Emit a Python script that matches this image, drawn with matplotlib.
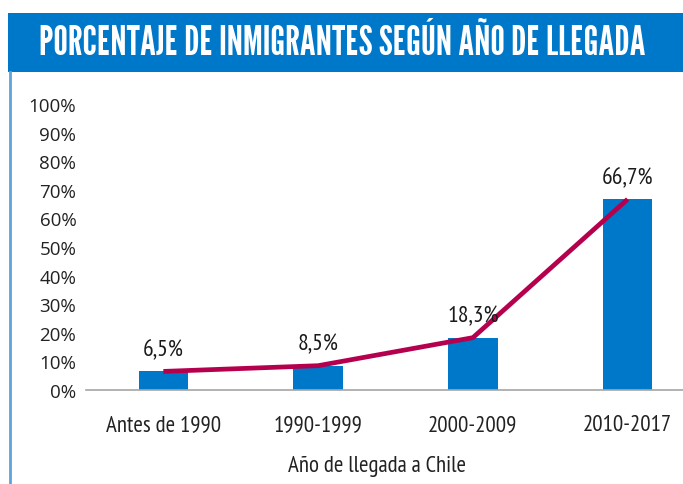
import matplotlib.pyplot as plt
from matplotlib.patches import Rectangle
from matplotlib.lines import Line2D

categorias = ['Antes de 1990', '1990-1999', '2000-2009', '2010-2017']
porcentajes = [6.5, 8.5, 18.3, 66.7]
etiquetas = ['6,5%', '8,5%', '18,3%', '66,7%']
yticks = [0, 10, 20, 30, 40, 50, 60, 70, 80, 90, 100]

azul = '#0078C9'
rojo = '#B5004E'
narrow = 'PT Sans Narrow'

fig = plt.figure(figsize=(6.83, 4.85), dpi=100)
W, H = 683, 485

# header box and left rule
fig.patches.append(Rectangle((8 / W, 1 - 73 / H), 1, 59 / H, transform=fig.transFigure,
                             facecolor=azul, edgecolor='none'))
fig.lines.append(Line2D([10 / W, 10 / W], [0, 1 - 73 / H], transform=fig.transFigure,
                        color='#5DA3DC', lw=2))
fig.text(342 / W, 1 - 44 / H, 'PORCENTAJE DE INMIGRANTES SEGÚN AÑO DE LLEGADA',
         color='white', fontsize=29.5, family='League Gothic', ha='center', va='center')

# axes extend past the right edge (cropped like the original)
left, right = 86 / W, 705 / W
bottom, top = 1 - 391 / H, 1 - 105 / H
ax = fig.add_axes([left, bottom, right - left, top - bottom])
x = range(len(categorias))
ax.bar(x, porcentajes, width=0.32, color=azul, zorder=2)
ax.plot(x, porcentajes, color=rojo, lw=3.4, zorder=3, solid_capstyle='butt')
for xi, v, t in zip(x, porcentajes, etiquetas):
    ax.annotate(t, (xi, v), xytext=(0, 8), textcoords='offset points', ha='center',
                va='bottom', fontsize=17, family=narrow, color='#1a1a1a')

ax.set_xlim(-0.5, 3.5)
ax.set_ylim(0, 100)
ax.set_yticks(yticks)
ax.set_yticklabels([f'{v}%' for v in yticks], fontsize=13.5, family='Open Sans',
                   color='#222222')
ax.set_xticks(list(x))
ax.set_xticklabels(categorias, fontsize=16.5, family=narrow, color='#222222')
ax.tick_params(axis='both', length=0)
ax.tick_params(axis='y', pad=7)
ax.tick_params(axis='x', pad=17)
for s in ['top', 'right', 'left']:
    ax.spines[s].set_visible(False)
ax.spines['bottom'].set_color('#A6A6A6')
ax.spines['bottom'].set_linewidth(1.2)
ax.patch.set_alpha(0)

fig.text(377 / W, 1 - 467 / H, 'Año de llegada a Chile', ha='center', va='center',
         fontsize=16.5, family=narrow, color='#222222')

fig.savefig('out.png', dpi=100)
